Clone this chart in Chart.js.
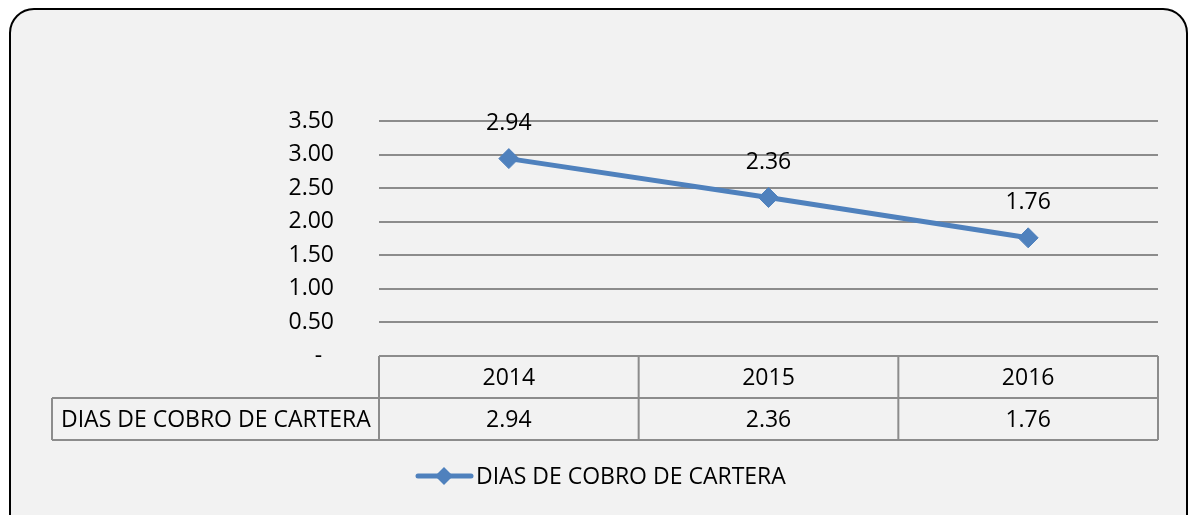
<!DOCTYPE html>
<html>
<head>
<meta charset="utf-8">
<script src="https://cdn.jsdelivr.net/npm/chart.js@4/dist/chart.umd.min.js"></script>
<style>
  html, body { margin: 0; padding: 0; background: #ffffff; }
  body { width: 1189px; height: 515px; position: relative; overflow: hidden; }
  .frame {
    position: absolute; left: 9px; top: 8px; width: 1175px; height: 560px;
    border: 2px solid #000; border-radius: 25px; background: #f2f2f2;
  }
  #chart { position: absolute; left: 0; top: 0; }
</style>
</head>
<body>
<div class="frame"></div>
<canvas id="chart" width="1189" height="515"></canvas>
<script>
// ─── Data ─────────────────────────────────────────────────────────
const years = ["2014", "2015", "2016"];
const seriesName = "DIAS DE COBRO DE CARTERA";
const diasCobro = [2.94, 2.36, 1.76];
const yTicks = [0, 0.5, 1, 1.5, 2, 2.5, 3, 3.5];

const FONT = "'Open Sans', sans-serif";
const FONT_SIZE = 23;
const LINE_COLOR = "#4f81bd";
const GRID_COLOR = "#8c8c8c";

const fmt = (v) => (v === 0 ? "-  " : v.toFixed(2));

// ─── Data table, labels and legend (drawn around the plot) ────────
const tablePlugin = {
  id: "excelTable",
  afterDraw(chart) {
    const ctx = chart.ctx;
    const x = chart.scales.x;
    const area = chart.chartArea;
    const rowH = 42;
    const top = area.bottom;
    const mid = top + rowH;
    const bottom = mid + rowH;
    const labelLeft = 52;

    // column boundaries from the category scale
    const step = (area.right - area.left) / years.length;
    const bounds = years.map((_, i) => x.getPixelForTick(i) - step / 2);
    bounds.push(area.right);

    ctx.save();
    ctx.strokeStyle = GRID_COLOR;
    ctx.lineWidth = 2;
    ctx.beginPath();
    ctx.moveTo(area.left, top); ctx.lineTo(area.right, top);
    ctx.moveTo(labelLeft, mid); ctx.lineTo(area.right, mid);
    ctx.moveTo(labelLeft, bottom); ctx.lineTo(area.right, bottom);
    ctx.moveTo(labelLeft, mid); ctx.lineTo(labelLeft, bottom);
    bounds.forEach((b) => { ctx.moveTo(b, top); ctx.lineTo(b, bottom); });
    ctx.stroke();

    ctx.fillStyle = "#000";
    ctx.font = `${FONT_SIZE}px ${FONT}`;
    ctx.textBaseline = "middle";
    ctx.textAlign = "center";
    years.forEach((yr, i) => {
      const cx = x.getPixelForTick(i);
      ctx.fillText(yr, cx, (top + mid) / 2 + 1);
      ctx.fillText(diasCobro[i].toFixed(2), cx, (mid + bottom) / 2 + 1);
    });
    ctx.textAlign = "left";
    ctx.fillText(seriesName, labelLeft + 9, (mid + bottom) / 2 + 1);

    // legend
    const ly = 476;
    ctx.strokeStyle = LINE_COLOR;
    ctx.lineWidth = 5;
    ctx.lineCap = "round";
    ctx.beginPath();
    ctx.moveTo(418, ly); ctx.lineTo(471, ly);
    ctx.stroke();
    ctx.fillStyle = LINE_COLOR;
    ctx.beginPath();
    ctx.moveTo(444 - 9, ly); ctx.lineTo(444, ly - 9);
    ctx.lineTo(444 + 9, ly); ctx.lineTo(444, ly + 9);
    ctx.closePath();
    ctx.fill();
    ctx.fillStyle = "#000";
    ctx.fillText(seriesName, 476, ly + 1);
    ctx.restore();
  },
  afterDatasetsDraw(chart) {
    const ctx = chart.ctx;
    const meta = chart.getDatasetMeta(0);
    ctx.save();
    ctx.fillStyle = "#000";
    ctx.font = `${FONT_SIZE}px ${FONT}`;
    ctx.textAlign = "center";
    ctx.textBaseline = "middle";
    meta.data.forEach((pt, i) => {
      ctx.fillText(diasCobro[i].toFixed(2), pt.x, pt.y - 35);
    });
    ctx.restore();
  },
};

new Chart(document.getElementById("chart"), {
  type: "line",
  data: {
    labels: years,
    datasets: [
      {
        label: seriesName,
        data: diasCobro,
        borderColor: LINE_COLOR,
        backgroundColor: LINE_COLOR,
        borderWidth: 5,
        pointStyle: "rectRot",
        pointRadius: 10,
        pointBorderWidth: 1,
        pointBackgroundColor: LINE_COLOR,
        pointBorderColor: LINE_COLOR,
        tension: 0,
      },
    ],
  },
  options: {
    responsive: false,
    animation: false,
    layout: { padding: { top: 121, right: 31, bottom: 159, left: 0 } },
    plugins: { legend: { display: false }, tooltip: { enabled: false } },
    scales: {
      x: { type: "category", offset: true, display: false },
      y: {
        min: 0,
        max: 3.5,
        afterFit: (scale) => { scale.width = 379; },
        afterBuildTicks: (scale) => { scale.ticks = yTicks.map((v) => ({ value: v })); },
        border: { display: false },
        grid: {
          color: (c) => (c.tick && c.tick.value === 0 ? "rgba(0,0,0,0)" : GRID_COLOR),
          lineWidth: 2,
          drawTicks: false,
        },
        ticks: {
          padding: 45,
          color: "#000",
          font: { family: FONT, size: FONT_SIZE },
          callback: (v) => fmt(v),
        },
      },
    },
  },
  plugins: [tablePlugin],
});
</script>
</body>
</html>
